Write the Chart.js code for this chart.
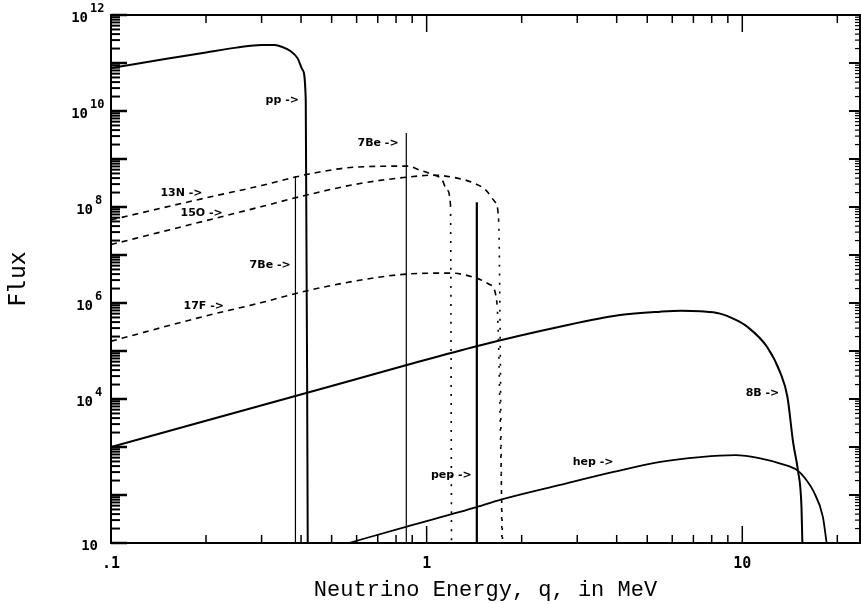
<!DOCTYPE html>
<html>
<head>
<meta charset="utf-8">
<title>Solar neutrino spectrum</title>
<script src="https://cdn.jsdelivr.net/npm/chart.js@4.4.1/dist/chart.umd.min.js"></script>
<style>
  html, body { margin: 0; padding: 0; background: #fff; }
</style>
</head>
<body>
<canvas id="fluxChart" width="861" height="604"></canvas>
<script>
// energies in MeV, fluxes
const ppE   = [0.1, 0.15, 0.2, 0.25, 0.3, 0.33, 0.35, 0.37, 0.39, 0.405, 0.414, 0.42];
const ppF   = [7.9e10, 1.22e11, 1.66e11, 2.09e11, 2.37e11, 2.37e11, 2.14e11, 1.78e11, 1.26e11, 7.1e10, 1.7e10, 10];

const n13E  = [0.1, 0.2, 0.3, 0.42, 0.6, 0.87, 0.95, 1.03, 1.12, 1.16, 1.19, 1.199];
const n13F  = [5.4e7, 1.55e8, 2.8e8, 4.8e8, 6.8e8, 7.1e8, 5.9e8, 4.9e8, 3.65e8, 2.24e8, 1.1e8, 10];

const o15E  = [0.1, 0.2, 0.3, 0.4, 0.6, 0.87, 1.05, 1.25, 1.41, 1.54, 1.65, 1.69, 1.732];
const o15F  = [1.65e7, 5.2e7, 1.02e8, 1.66e8, 3.0e8, 4.2e8, 4.6e8, 4.0e8, 3.16e8, 2.24e8, 1.26e8, 5.4e7, 10];

const f17E  = [0.1, 0.2, 0.3, 0.4, 0.6, 0.865, 1.19, 1.44, 1.59, 1.67, 1.74];
const f17F  = [1.6e5, 5.4e5, 1.02e6, 1.68e6, 2.9e6, 4.0e6, 4.2e6, 3.3e6, 2.4e6, 1.0e6, 10];

const b8E   = [0.1, 0.384, 0.865, 1.44, 2.64, 4.1, 5.5, 6.4, 7.36, 8.5, 9.5, 10.37, 12.0, 13.2, 13.9, 14.5, 15.0, 15.4, 15.5];
const b8F   = [1.0e3, 1.15e4, 5.1e4, 1.26e5, 3.2e5, 5.6e5, 6.6e5, 6.9e5, 6.7e5, 6.0e5, 4.5e5, 3.2e5, 1.2e5, 3.5e4, 1.1e4, 1.2e3, 330, 56, 10];

const hepE  = [0.567, 0.865, 1.44, 1.71, 2.65, 3.91, 5.5, 7.36, 9.5, 11.4, 13.2, 15.0, 16.0, 16.8, 18.0, 18.5];
const hepF  = [10, 22, 56, 79, 162, 302, 490, 617, 676, 580, 450, 320, 200, 120, 35, 10];

// line sources: 7Be (two lines) and pep
const lineE = [0.384, 0.862, 1.442];
const lineF = [4.4e8, 3.5e9, 1.26e8];
const lineW = [1.2, 1.2, 2.2];

// labels with arrows (right end of text)
const noteText = ['pp ->', '7Be ->', '13N ->', '15O ->', '7Be ->', '17F ->', '8B ->', 'pep ->', 'hep ->'];
const noteE    = [0.394, 0.815, 0.195, 0.226, 0.371, 0.228, 13.1, 1.39, 3.91];
const noteF    = [1.7e10, 2.15e9, 1.95e8, 7.5e7, 6.2e6, 8.7e5, 1.33e4, 263, 490];

// axis ticks
const xTickVals = [0.1, 1, 10];
const xTickText = ['.1', '1', '10'];
const yTickVals = [1e12, 1e10, 1e8, 1e6, 1e4, 10];
const yTickExp  = ['12', '10', '8', '6', '4', ''];

const pts = (xs, ys) => xs.map((v, i) => ({ x: v, y: ys[i] }));

// last segment (the drop to the axis) is drawn dotted
const dropDotted = (n) => ({
  borderDash: ctx => ctx.p1DataIndex === n - 1 ? [2, 7] : [6, 5]
});

const datasets = [
  { data: pts(ppE, ppF), borderWidth: 2 },
  { data: pts(n13E, n13F), borderWidth: 1.6, borderDash: [6, 5], segment: dropDotted(n13E.length) },
  { data: pts(o15E, o15F), borderWidth: 1.6, borderDash: [6, 5], segment: dropDotted(o15E.length) },
  { data: pts(f17E, f17F), borderWidth: 1.6, borderDash: [6, 5], segment: dropDotted(f17E.length) },
  { data: pts(b8E, b8F), borderWidth: 2 },
  { data: pts(hepE, hepF), borderWidth: 1.8 }
];
lineE.forEach((e, i) => {
  datasets.push({ data: [{ x: e, y: lineF[i] }, { x: e, y: 10 }], borderWidth: lineW[i], tension: 0 });
});
datasets.forEach(d => {
  d.borderColor = '#000';
  d.pointRadius = 0;
  d.fill = false;
  if (d.tension === undefined) d.cubicInterpolationMode = 'monotone';
});

const frameTicks = {
  id: 'frameTicks',
  afterDraw(chart) {
    const { ctx, chartArea: a, scales: { x, y } } = chart;
    ctx.save();
    ctx.strokeStyle = '#000';
    ctx.lineWidth = 2;
    ctx.strokeRect(a.left, a.top, a.right - a.left, a.bottom - a.top);
    const seg = (x1, y1, x2, y2) => { ctx.beginPath(); ctx.moveTo(x1, y1); ctx.lineTo(x2, y2); ctx.stroke(); };
    ctx.lineWidth = 1.5;
    for (let d = -1; d <= 1; d++) {
      for (let m = 1; m <= 9; m++) {
        const v = m * Math.pow(10, d);
        if (v > x.max) continue;
        const px = x.getPixelForValue(v);
        const len = m === 1 ? 17 : 8;
        seg(px, a.bottom, px, a.bottom - len);
        seg(px, a.top, px, a.top + len);
      }
    }
    for (let d = 1; d <= 12; d++) {
      for (let m = 1; m <= 9; m++) {
        const v = m * Math.pow(10, d);
        if (v > y.max) continue;
        const py = y.getPixelForValue(v);
        ctx.lineWidth = m === 1 ? 2.5 : 2;
        seg(a.left, py, a.left + (m === 1 ? 16 : 9), py);
        ctx.lineWidth = m === 1 ? 2 : 1.2;
        seg(a.right, py, a.right - (m === 1 ? 11 : 5), py);
      }
    }
    // y tick labels with raised exponents
    ctx.fillStyle = '#000';
    ctx.textBaseline = 'middle';
    yTickVals.forEach((v, i) => {
      const py = y.getPixelForValue(v);
      const exp = yTickExp[i];
      const baseRight = a.left - 13 - exp.length * 5;
      ctx.font = 'bold 14px "DejaVu Sans Mono"';
      ctx.textAlign = 'right';
      ctx.fillText('10', baseRight, py + 3);
      if (exp) {
        ctx.font = 'bold 12px "DejaVu Sans Mono"';
        ctx.textAlign = 'left';
        ctx.fillText(exp, baseRight + 2, py - 6);
      }
    });
    // curve labels
    ctx.font = 'bold 11px "DejaVu Sans"';
    ctx.textAlign = 'right';
    noteText.forEach((t, i) => {
      ctx.fillText(t, x.getPixelForValue(noteE[i]), y.getPixelForValue(noteF[i]));
    });
    ctx.restore();
  }
};

new Chart(document.getElementById('fluxChart').getContext('2d'), {
  type: 'line',
  data: { datasets: datasets },
  options: {
    responsive: false,
    animation: false,
    layout: { padding: { top: 15, right: 1, left: 0, bottom: 0 } },
    plugins: {
      legend: { display: false },
      tooltip: { enabled: false }
    },
    scales: {
      x: {
        type: 'logarithmic',
        min: 0.1,
        max: 23.6,
        afterFit: scale => { scale.height = 61; },
        afterBuildTicks: scale => { scale.ticks = xTickVals.map(v => ({ value: v })); },
        grid: { display: false, drawTicks: false },
        border: { display: false },
        ticks: {
          autoSkip: false,
          maxRotation: 0,
          padding: 12,
          color: '#000',
          font: { family: 'DejaVu Sans Mono', size: 15, weight: 'bold' },
          callback: (value) => xTickText[xTickVals.indexOf(value)]
        },
        title: {
          display: true,
          text: 'Neutrino Energy, q, in MeV',
          color: '#000',
          padding: 1,
          font: { family: 'Liberation Mono', size: 22 }
        }
      },
      y: {
        type: 'logarithmic',
        min: 10,
        max: 1e12,
        afterFit: scale => { scale.width = 111; },
        grid: { display: false, drawTicks: false },
        border: { display: false },
        ticks: { display: false },
        title: {
          display: true,
          text: 'Flux',
          color: '#000',
          padding: 5,
          font: { family: 'DejaVu Sans Mono', size: 23 }
        }
      }
    }
  },
  plugins: [frameTicks]
});
</script>
</body>
</html>
